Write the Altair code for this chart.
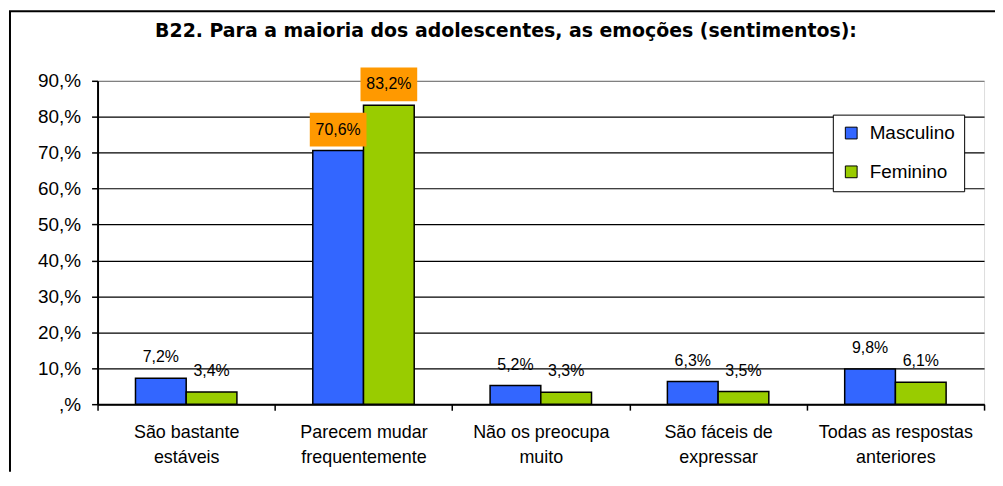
import altair as alt
import pandas as pd

categories = [
    "São bastante\nestáveis",
    "Parecem mudar\nfrequentemente",
    "Não os preocupa\nmuito",
    "São fáceis de\nexpressar",
    "Todas as respostas\nanteriores",
]
series = ["Masculino", "Feminino"]
masculino = [7.2, 70.6, 5.2, 6.3, 9.8]
feminino = [3.4, 83.2, 3.3, 3.5, 6.1]
y_ticks = [0, 10, 20, 30, 40, 50, 60, 70, 80, 90]
title_text = "B22. Para a maioria dos adolescentes, as emoções (sentimentos):"

rows = []
for c, m, f in zip(categories, masculino, feminino):
    rows.append({"cat": c, "serie": series[0], "v": m})
    rows.append({"cat": c, "serie": series[1], "v": f})
df = pd.DataFrame(rows)

FONT = "Liberation Sans"
W, H = 891, 325

x_enc = alt.X(
    "cat:N",
    sort=categories,
    scale=alt.Scale(paddingInner=0, paddingOuter=0),
    axis=alt.Axis(
        title=None,
        labelAngle=0,
        labelExpr="split(datum.label, '\\n')",
        labelFontSize=18,
        labelLineHeight=25,
        labelPadding=14,
        labelColor="black",
        labelFont=FONT,
        labelOverlap=False,
        tickBand="extent",
        tickSize=6,
        tickColor="black",
        tickWidth=1.5,
        domainColor="black",
        domainWidth=2,
        grid=False,
    ),
)
xo_enc = alt.XOffset(
    "serie:N", sort=series, scale=alt.Scale(paddingInner=0, paddingOuter=0.748)
)
y_enc = alt.Y(
    "v:Q",
    scale=alt.Scale(domain=[0, 90], nice=False),
    axis=alt.Axis(
        title=None,
        values=y_ticks,
        labelExpr="datum.value == 0 ? ',%' : datum.value + ',%'",
        labelFontSize=19,
        labelFont=FONT,
        labelColor="black",
        labelPadding=11,
        labelOverlap=False,
        labelFlush=False,
        tickSize=6,
        tickColor="black",
        tickWidth=1.5,
        domainColor="black",
        domainWidth=2,
        grid=True,
        gridColor={
            "condition": {"test": "datum.value >= 90", "value": "#808080"},
            "value": "black",
        },
        gridWidth=1.2,
    ),
)

base = alt.Chart(df)

bars = base.mark_bar(stroke="black", strokeWidth=1.5).encode(
    x=x_enc,
    xOffset=xo_enc,
    y=y_enc,
    color=alt.Color(
        "serie:N",
        sort=series,
        scale=alt.Scale(domain=series, range=["#3366FF", "#99CC00"]),
        legend=alt.Legend(
            title=None,
            orient="none",
            legendX=739,
            legendY=34,
            strokeColor="black",
            fillColor="white",
            padding=9,
            rowPadding=19,
            labelFontSize=19,
            labelFont=FONT,
            labelColor="black",
            labelOffset=9,
            symbolType="square",
            symbolSize=140,
            symbolStrokeColor="black",
            symbolStrokeWidth=1,
            cornerRadius=0,
        ),
    ),
)

boxes = (
    base.transform_filter("datum.v > 50")
    .mark_bar(color="#FF9900", width=57, yOffset=-4, y2Offset=-38)
    .encode(x=x_enc, xOffset=xo_enc, y=y_enc, y2="v:Q")
)

labels = (
    base.transform_calculate(
        lab="replace(format(datum.v, '.1f'), '.', ',') + '%'"
    )
    .mark_text(fontSize=16, font=FONT, color="black", baseline="middle", dy=-21)
    .encode(x=x_enc, xOffset=xo_enc, y=y_enc, text="lab:N")
)

one = alt.Chart(pd.DataFrame({"a": [0]}))
border_left = one.mark_rule(color="black", strokeWidth=2).encode(
    x=alt.value(-88), y=alt.value(-70), y2=alt.value(H + 68)
)
border_top = one.mark_rule(color="black", strokeWidth=2).encode(
    x=alt.value(-89), x2=alt.value(W + 11), y=alt.value(-70)
)
title = one.mark_text(
    font="DejaVu Sans", fontSize=19, fontWeight="bold", color="black",
    baseline="middle",
).encode(
    x=alt.value(W / 2 - 35), y=alt.value(-50), text=alt.value(title_text)
)

chart = (
    alt.layer(bars, boxes, labels, border_left, border_top, title)
    .properties(
        width=W,
        height=H,
        autosize=alt.AutoSizeParams(type="none"),
        padding={"left": 90, "top": 72, "right": 11, "bottom": 68},
    )
    .configure_view(stroke="#808080", strokeWidth=2)
    .configure(background="white")
)

chart.save("out.html", embed_options={"renderer": "svg", "actions": False})
